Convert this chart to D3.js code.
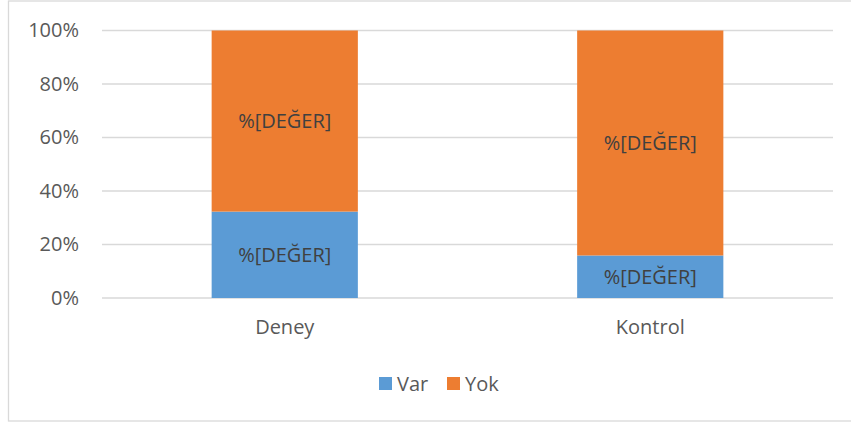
<!DOCTYPE html>
<html>
<head>
<meta charset="utf-8">
<script src="https://cdn.jsdelivr.net/npm/d3@7"></script>
<style>
  body { margin: 0; background: #fff; }
  text { font-family: "Open Sans", "Liberation Sans", sans-serif; }
</style>
</head>
<body>
<script>
let width = 851;
let height = 424;

// chart values
let categories = ["Deney", "Kontrol"];
let seriesNames = ["Var", "Yok"];
let varValues = [0.323, 0.159];
let yokValues = [0.677, 0.841];
let tickValues = [0, 0.2, 0.4, 0.6, 0.8, 1];
let labelText = "%[DEĞER]";
let colors = ["#5b9bd5", "#ed7d31"];

let margin = { top: 30.5, right: 18, bottom: 126, left: 102 };
let fontSize = "20px";

let svg = d3
  .select("body")
  .append("svg")
  .attr("width", width)
  .attr("height", height);

// chart frame
svg
  .append("rect")
  .attr("x", 8.5)
  .attr("y", 1)
  .attr("width", 850)
  .attr("height", 420)
  .attr("fill", "#fff")
  .attr("stroke", "#d9d9d9")
  .attr("stroke-width", 1.3);

let x = d3
  .scaleBand()
  .domain(categories)
  .range([margin.left, width - margin.right])
  .paddingInner(0.6)
  .paddingOuter(0.3);

let y = d3
  .scaleLinear()
  .domain([0, 1])
  .range([height - margin.bottom, margin.top]);

// gridlines
svg
  .append("g")
  .selectAll("line")
  .data(tickValues)
  .enter()
  .append("line")
  .attr("x1", margin.left)
  .attr("x2", width - margin.right)
  .attr("y1", (d) => y(d))
  .attr("y2", (d) => y(d))
  .attr("stroke", "#d9d9d9")
  .attr("stroke-width", 1.3);

// y axis labels
let yAxis = d3
  .axisLeft(y)
  .tickValues(tickValues)
  .tickFormat(d3.format(".0%"))
  .tickSize(0)
  .tickPadding(23);

svg
  .append("g")
  .attr("transform", `translate(${margin.left},0)`)
  .call(yAxis)
  .call((g) => g.select(".domain").remove())
  .selectAll("text")
  .attr("fill", "#595959")
  .attr("font-size", fontSize);

// x axis labels
let xAxis = d3.axisBottom(x).tickSize(0).tickPadding(22);
svg
  .append("g")
  .attr("transform", `translate(0,${y(0)})`)
  .call(xAxis)
  .call((g) => g.select(".domain").remove())
  .selectAll("text")
  .attr("fill", "#595959")
  .attr("font-size", fontSize);

// stacked data
let rows = categories.map((c, i) => ({ cat: c, Var: varValues[i], Yok: yokValues[i] }));
let stacked = d3.stack().keys(seriesNames)(rows);

let layers = svg
  .append("g")
  .selectAll("g")
  .data(stacked)
  .enter()
  .append("g")
  .attr("fill", (d, i) => colors[i]);

layers
  .selectAll("rect")
  .data((d) => d)
  .enter()
  .append("rect")
  .attr("x", (d) => x(d.data.cat))
  .attr("width", x.bandwidth())
  .attr("y", (d) => y(d[1]))
  .attr("height", (d) => y(d[0]) - y(d[1]));

layers
  .selectAll("text")
  .data((d) => d)
  .enter()
  .append("text")
  .attr("x", (d) => x(d.data.cat) + x.bandwidth() / 2)
  .attr("y", (d) => (y(d[0]) + y(d[1])) / 2)
  .attr("dy", "0.35em")
  .attr("text-anchor", "middle")
  .attr("fill", "#404040")
  .attr("font-size", fontSize)
  .text(labelText);

// legend
let legend = svg
  .append("g")
  .selectAll("g")
  .data(seriesNames)
  .enter()
  .append("g")
  .attr("transform", (d, i) => `translate(${379 + i * 68},377)`);

legend
  .append("rect")
  .attr("width", 13)
  .attr("height", 13)
  .attr("fill", (d, i) => colors[i]);

legend
  .append("text")
  .attr("x", 18)
  .attr("y", 6.5)
  .attr("dy", "0.35em")
  .attr("fill", "#595959")
  .attr("font-size", fontSize)
  .text((d) => d);
</script>
</body>
</html>
